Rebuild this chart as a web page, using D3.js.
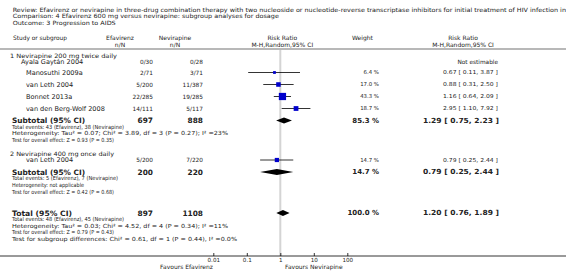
<!DOCTYPE html>
<html><head><meta charset="utf-8">
<script src="https://cdn.jsdelivr.net/npm/d3@7"></script>
<style>
body{margin:0;background:#fff;}
svg text{font-family:"DejaVu Sans",Verdana,sans-serif;fill:#222;}
</style></head>
<body><svg id="c" width="566" height="272"></svg>
<script>
// ---- data ----
const titleLines = [
  "Review:  Efavirenz or nevirapine in three-drug combination therapy with two nucleoside or nucleotide-reverse transcriptase inhibitors for initial treatment of HIV infection in adults",
  "Comparison:  4 Efavirenz 600 mg versus nevirapine: subgroup analyses for dosage",
  "Outcome:  3 Progression to AIDS"
];
const groupNames = ["1 Nevirapine 200 mg twice daily", "2 Nevirapine 400 mg once daily"];
const studies1 = ["Ayala Gaytán 2004", "Manosuthi 2009a", "van Leth 2004", "Bonnet 2013a", "van den Berg-Wolf 2008"];
const efav1 = ["0/30", "2/71", "5/200", "22/285", "14/111"];
const nev1 = ["0/28", "3/71", "11/387", "19/285", "5/117"];
const weight1 = [null, 6.4, 17.0, 43.3, 18.7];
const rr1 = [null, 0.67, 0.88, 1.16, 2.95];
const lo1 = [null, 0.11, 0.31, 0.64, 1.10];
const hi1 = [null, 3.87, 2.50, 2.09, 7.92];
const studies2 = ["van Leth 2004"];
const efav2 = ["5/200"];
const nev2 = ["7/220"];
const weight2 = [14.7];
const rr2 = [0.79];
const lo2 = [0.25];
const hi2 = [2.44];
const subNames = ["Subtotal (95% CI)", "Subtotal (95% CI)", "Total (95% CI)"];
const subEfavN = [697, 200, 897];
const subNevN = [888, 220, 1108];
const subWeight = [85.3, 14.7, 100.0];
const subRR = [1.29, 0.79, 1.20];
const subLo = [0.75, 0.25, 0.76];
const subHi = [2.23, 2.44, 1.89];
const subNotes = [
  ["Total events: 43 (Efavirenz), 38 (Nevirapine)",
   "Heterogeneity: Tau² = 0.07; Chi² = 3.89, df = 3 (P = 0.27); I² =23%",
   "Test for overall effect: Z = 0.93 (P = 0.35)"],
  ["Total events: 5 (Efavirenz), 7 (Nevirapine)",
   "Heterogeneity: not applicable",
   "Test for overall effect: Z = 0.42 (P = 0.68)"],
  ["Total events: 48 (Efavirenz), 45 (Nevirapine)",
   "Heterogeneity: Tau² = 0.03; Chi² = 4.52, df = 4 (P = 0.34); I² =11%",
   "Test for overall effect: Z = 0.79 (P = 0.43)",
   "Test for subgroup differences: Chi² = 0.61, df = 1 (P = 0.44), I² =0.0%"]
];
const tickValues = [0.01, 0.1, 1, 10, 100];
const tickLabels = ["0.01", "0.1", "1", "10", "100"];
const favLeft = "Favours Efavirenz", favRight = "Favours Nevirapine";

// ---- layout ----
const svg = d3.select("#c");
const X = d3.scaleLog().domain([0.01, 100]).range([213.3, 347.3]);
const S = d3.scaleSqrt().domain([0, 100]).range([0, 11]);
const colLeft = 12, colGroup = 10, colStudy = 26, colEf = 153, colNv = 203, colW = 379, colRR = 498;
const fmt2 = d3.format(".2f"), fmt1 = d3.format(".1f");
const fs = 6, fsb = 7.4;

function txt(x, y, s, opt = {}) {
  return svg.append("text").attr("x", x).attr("y", y).attr("dy", "0.35em")
    .attr("font-size", opt.size || fs).attr("font-weight", opt.bold ? "bold" : null)
    .attr("text-anchor", opt.anchor || "start").text(s);
}
// stretch/shrink a text to span a given width (reference extents)
function fit(sel, w) {
  sel.attr("textLength", w).attr("lengthAdjust", "spacingAndGlyphs");
  return sel;
}

// title: the first line runs off the right edge at "infection i"
const titleX = 12.7, titleY = [9.5, 16, 22.5];
const t0 = txt(titleX, titleY[0], titleLines[0], {size: 5.8});
const cut = titleLines[0].indexOf("infection in") + 11;
const hScale = (566 - titleX) / t0.node().getSubStringLength(0, cut);
[t0, txt(titleX, titleY[1], titleLines[1], {size: 5.8}), txt(titleX, titleY[2], titleLines[2], {size: 5.8})]
  .forEach(t => fit(t, t.node().getComputedTextLength() * hScale));

// header
fit(txt(13, 38, "Study or subgroup"), 54);
txt(120, 38, "Efavirenz", {anchor: "middle"});
txt(120, 44.5, "n/N", {anchor: "middle"});
txt(175, 38, "Nevirapine", {anchor: "middle"});
txt(175, 44.5, "n/N", {anchor: "middle"});
txt(X(1) + 2, 38, "Risk Ratio", {anchor: "middle"});
txt(X(1) + 2, 44.5, "M-H,Random,95% CI", {anchor: "middle"});
txt(352, 38, "Weight");
txt(463, 38, "Risk Ratio", {anchor: "middle"});
txt(463, 44.5, "M-H,Random,95% CI", {anchor: "middle"});
svg.append("line").attr("x1", 0).attr("x2", 566).attr("y1", 49).attr("y2", 49)
  .attr("stroke", "#a0a0a0").attr("stroke-width", 1.6);

// reference line at 1
svg.append("line").attr("x1", X(1)).attr("x2", X(1)).attr("y1", 50).attr("y2", 256)
  .attr("stroke", "#d4d4d4").attr("stroke-width", 2);

const studyW = 79; // reference width of the longest study name
let studyFont = fs;
{
  const probe = txt(0, -20, "van den Berg-Wolf 2008");
  studyFont = fs * studyW / probe.node().getComputedTextLength();
  probe.remove();
}

function study(y, name, e, n, w, r, l, h, xName) {
  txt(xName, y, name, {size: studyFont});
  txt(colEf, y, e, {anchor: "end", size: 5.8});
  txt(colNv, y, n, {anchor: "end", size: 5.8});
  if (r == null) { txt(colRR, y, "Not estimable", {anchor: "end", size: 5.8}); return; }
  txt(colW, y, fmt1(w) + " %", {anchor: "end", size: 5.4});
  fit(txt(colRR, y, `${fmt2(r)} [ ${fmt2(l)}, ${fmt2(h)} ]`, {anchor: "end", size: 5.4}), 55);
  svg.append("line").attr("x1", X(l)).attr("x2", X(h)).attr("y1", y).attr("y2", y)
    .attr("stroke", "#000").attr("stroke-width", 0.8);
  const s = S(w);
  svg.append("rect").attr("x", X(r) - s / 2).attr("y", y - s / 2).attr("width", s).attr("height", s)
    .attr("fill", "#0000cc");
}
const noteEnds = [[124, 228, 114], [118, 84, 114], [124, 228, 114, 237]];
function subtotal(y, i, noteYs) {
  fit(txt(colLeft, y, subNames[i], {bold: true, size: fsb}), i === 2 ? 60 : 73);
  txt(colEf, y, subEfavN[i], {bold: true, size: fsb, anchor: "end"});
  txt(colNv, y, subNevN[i], {bold: true, size: fsb, anchor: "end"});
  txt(colW, y, fmt1(subWeight[i]) + " %", {bold: true, size: 7, anchor: "end"});
  fit(txt(colRR + 1, y, `${fmt2(subRR[i])} [ ${fmt2(subLo[i])}, ${fmt2(subHi[i])} ]`, {bold: true, size: 7, anchor: "end"}), 76);
  const hh = 3;
  svg.append("path").attr("d", `M${X(subLo[i])},${y}L${X(subRR[i])},${y - hh}L${X(subHi[i])},${y}L${X(subRR[i])},${y + hh}Z`)
    .attr("fill", "#000");
  subNotes[i].forEach((t, k) => fit(txt(colLeft, noteYs[k], t, {size: 5.6}), noteEnds[i][k] - colLeft));
}

// group 1
fit(txt(colGroup, 55.5, groupNames[0]), 107);
const ys1 = [61.5, 72.5, 84.5, 96.5, 108.5];
studies1.forEach((s, i) => study(ys1[i], s, efav1[i], nev1[i], weight1[i], rr1[i], lo1[i], hi1[i], i === 0 ? 21 : colStudy));
subtotal(120.5, 0, [127, 133.5, 140]);

// group 2
fit(txt(colGroup, 154, groupNames[1]), 104);
studies2.forEach((s, i) => study(160, s, efav2[i], nev2[i], weight2[i], rr2[i], lo2[i], hi2[i], colStudy));
subtotal(172, 1, [178.5, 185.5, 192]);

// total
subtotal(213, 2, [219.5, 226, 232.5, 239]);

// axis
svg.append("line").attr("x1", 0).attr("x2", 566).attr("y1", 256).attr("y2", 256)
  .attr("stroke", "#000").attr("stroke-width", 0.8);
const ax = d3.axisBottom(X).tickValues(tickValues).tickFormat((d, i) => tickLabels[i])
  .tickSizeInner(-3).tickSizeOuter(0).tickPadding(2);
const g = svg.append("g").attr("transform", "translate(0,256)").call(ax);
g.select(".domain").remove();
g.selectAll(".tick line").attr("stroke", "#000").attr("stroke-width", 0.8);
g.selectAll(".tick text").attr("font-size", 5.6).attr("font-family", '"DejaVu Sans",Verdana,sans-serif').attr("fill", "#222");
txt(213, 266.5, favLeft, {anchor: "end"});
txt(285, 266.5, favRight);
</script></body></html>
